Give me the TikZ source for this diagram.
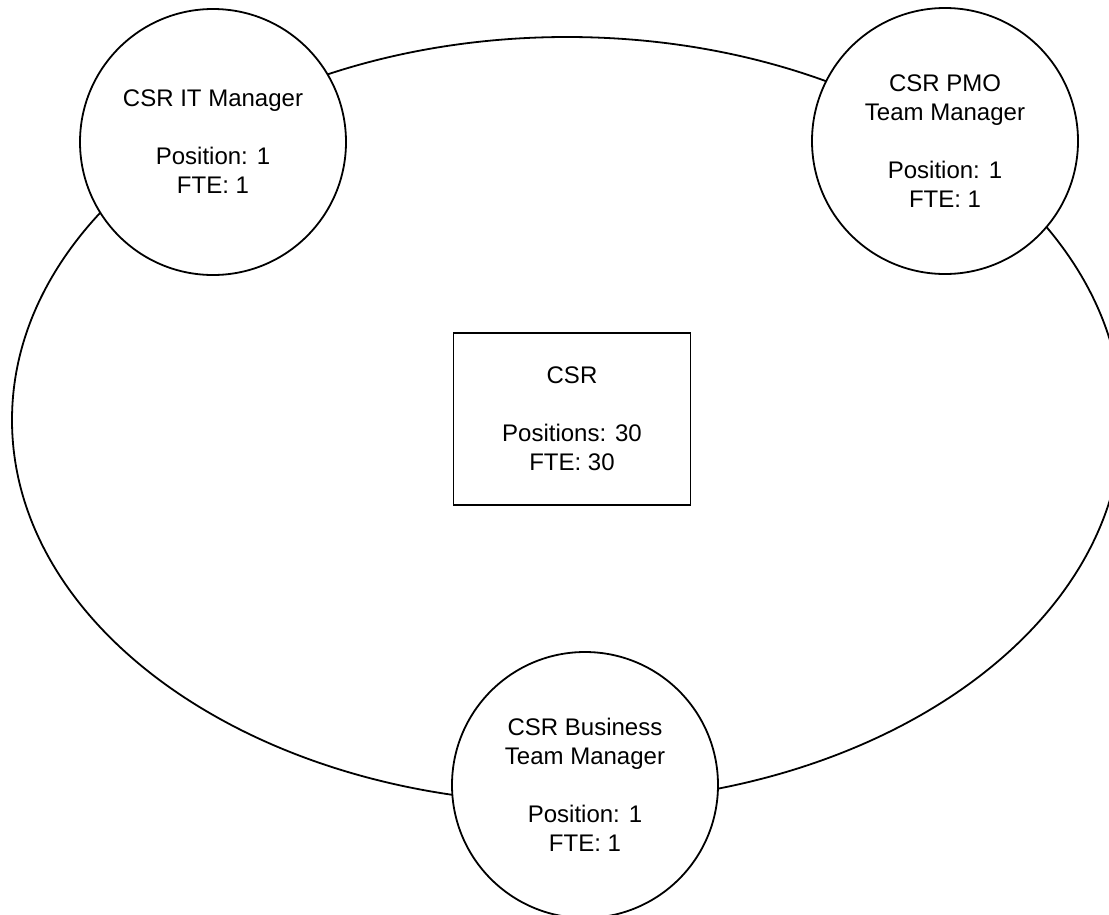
\documentclass[tikz,border=0pt]{standalone}
\usepackage{fontspec}
\setmainfont{Liberation Sans}
\usepackage{tikz}

\begin{document}
\begin{tikzpicture}[x=1pt,y=-1pt,
		rolecircle/.style={circle, draw, line width=1.8pt, fill=white, minimum size=266pt, inner sep=0pt, align=center, font=\fontsize{24}{29}\selectfont},
		unitbox/.style={rectangle, draw, line width=1.8pt, minimum width=237pt, minimum height=172pt, align=center, font=\fontsize{24}{29}\selectfont}]
	
	\def\ex{567}
	\def\ey{420}
	\def\erx{555}
	\def\ery{383}
	
	\clip (0,0) rectangle (1109,914);
	\fill[white] (0,0) rectangle (1109,914);
	
	\draw[line width=1.8pt] (\ex,\ey) ellipse [x radius=\erx, y radius=\ery];
	
	\node[unitbox] (csr) at (572,419) {CSR\\[29pt]Positions: 30\\FTE: 30};
	
	\node[rolecircle] (it) at (213,142) {CSR IT Manager\\[29pt]Position: 1\\FTE: 1};
	\node[rolecircle] (pmo) at (945,141) {CSR PMO\\Team Manager\\[29pt]Position: 1\\FTE: 1};
	\node[rolecircle] (bus) at (585,785) {CSR Business\\Team Manager\\[29pt]Position: 1\\FTE: 1};
	
\end{tikzpicture}
\end{document}
